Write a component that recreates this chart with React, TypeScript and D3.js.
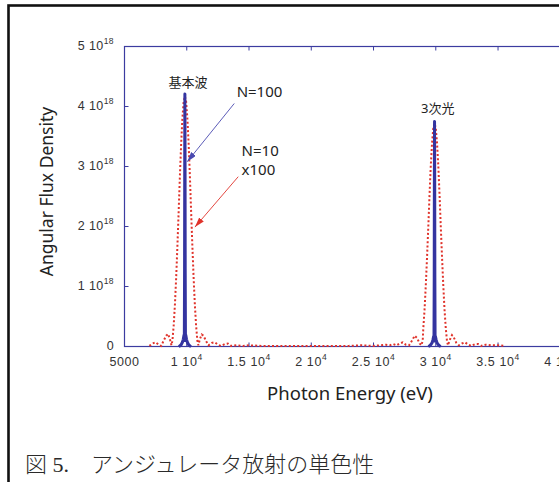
import React, { useEffect, useRef } from "react";
import * as d3 from "d3";

const WIDTH = 559;
const HEIGHT = 482;

// axis ticks (x in eV, y in units of 1e18)
const xTicks = [5000, 10000, 15000, 20000, 25000, 30000, 35000, 40000];
const xTickBase = ["5000", "1 10", "1.5 10", "2 10", "2.5 10", "3 10", "3.5 10", "4 10"];
const xTickExp = ["", "4", "4", "4", "4", "4", "4", "4"];
const yTicks = [0, 1, 2, 3, 4, 5];
const yTickBase = ["0", "1 10", "2 10", "3 10", "4 10", "5 10"];
const yTickExp = ["", "18", "18", "18", "18", "18"];

// N=100, fundamental and 3rd harmonic  [eV, flux/1e18]
const n100Fund: [number, number][] = [
  [9350, 0], [9450, 0.01], [9550, 0.03], [9650, 0.07], [9720, 0.12], [9780, 0.19],
  [9805, 0.1], [9825, 1.3], [9838, 3.2], [9850, 4.21], [9862, 3.2], [9875, 1.3],
  [9895, 0.1], [9920, 0.19], [9980, 0.12], [10050, 0.07], [10150, 0.03], [10250, 0.01], [10350, 0],
];
const n100Third: [number, number][] = [
  [29400, 0], [29500, 0.01], [29600, 0.03], [29700, 0.06], [29770, 0.11], [29830, 0.17],
  [29855, 0.09], [29875, 1.15], [29888, 2.85], [29900, 3.75], [29912, 2.85], [29925, 1.15],
  [29945, 0.09], [29970, 0.17], [30030, 0.11], [30100, 0.06], [30200, 0.03], [30300, 0.01], [30400, 0],
];

// N=10 (x100)
const n10x100: [number, number][] = [
  [7000, 0.01], [7250, 0.05], [7500, 0.07], [7750, 0.03], [7950, 0.01], [8150, 0.1],
  [8350, 0.18], [8500, 0.21], [8650, 0.12], [8770, 0.02], [8850, 0.1], [8950, 0.35],
  [9050, 0.7], [9150, 1.15], [9250, 1.68], [9350, 2.25], [9450, 2.85], [9550, 3.38],
  [9650, 3.8], [9750, 4.08], [9850, 4.17], [9950, 4.08], [10050, 3.8], [10150, 3.38],
  [10250, 2.85], [10350, 2.25], [10450, 1.68], [10550, 1.15], [10650, 0.7], [10750, 0.35],
  [10850, 0.1], [10930, 0.02], [11050, 0.12], [11200, 0.2], [11350, 0.18], [11550, 0.09],
  [11750, 0.02], [12000, 0.06], [12250, 0.07], [12500, 0.03], [12750, 0.01], [13050, 0.04],
  [13300, 0.05], [13550, 0.01], [14000, 0.02], [14500, 0.01], [15000, 0.02], [16000, 0.01],
  [17000, 0.01], [18000, 0.01], [19000, 0.01], [20000, 0.01], [21000, 0.01], [22000, 0.01],
  [23000, 0.01], [24000, 0.02], [25000, 0.01], [25500, 0.02], [26000, 0.03], [26300, 0.02],
  [26600, 0.04], [26850, 0.02], [27100, 0.05], [27350, 0.07], [27600, 0.03], [27850, 0.02],
  [28100, 0.1], [28300, 0.18], [28500, 0.14], [28700, 0.05], [28850, 0.02], [28950, 0.1],
  [29000, 0.31], [29100, 0.62], [29200, 1.03], [29300, 1.5], [29400, 2.0], [29500, 2.54],
  [29600, 3.02], [29700, 3.39], [29800, 3.64], [29900, 3.72], [30000, 3.64], [30100, 3.39],
  [30200, 3.02], [30300, 2.54], [30400, 2.0], [30500, 1.5], [30600, 1.03], [30700, 0.62],
  [30800, 0.31], [30900, 0.09], [30980, 0.02], [31100, 0.1], [31300, 0.19], [31450, 0.15],
  [31650, 0.06], [31850, 0.02], [32100, 0.05], [32350, 0.07], [32600, 0.03], [32850, 0.01],
  [33150, 0.04], [33400, 0.04], [33650, 0.01], [34000, 0.03], [34500, 0.02], [35000, 0.02],
  [35500, 0.01],
];

// annotation texts and arrows, in data coordinates
const labels = [
  { text: "基本波", e: 10096, v: 4.33, anchor: "middle", size: 13 },
  { text: "N=100", e: 14005, v: 4.16, anchor: "start", size: 15 },
  { text: "N=10", e: 14406, v: 3.175, anchor: "start", size: 15 },
  { text: "x100", e: 14406, v: 2.86, anchor: "start", size: 15 },
  { text: "3次光", e: 30161, v: 3.89, anchor: "middle", size: 13 },
];
const arrows = [
  { from: [13813, 4.05], to: [10040, 3.08], color: "#4a4ab0" },
  { from: [14133, 2.83], to: [10658, 1.99], color: "#e0332b" },
];

const AXIS = "#3c3ca0";
const BLUE = "#3434a0";
const RED = "#e0332b";

const App = () => {
  const ref = useRef<SVGSVGElement>(null);

  useEffect(() => {
    const svg = d3.select(ref.current);
    svg.selectAll("*").remove();

    const margin = { top: 46.5, left: 124.5, bottom: 346.5, right: 560.3 };
    const x = d3.scaleLinear().domain([5000, 40000]).range([margin.left, margin.right]);
    const y = d3.scaleLinear().domain([0, 5]).range([margin.bottom, margin.top]);

    // outer frame
    svg.append("rect")
      .attr("x", 8.5).attr("y", 5.5).attr("width", 600).attr("height", 600)
      .attr("fill", "none").attr("stroke", "#111").attr("stroke-width", 2.6);

    const defs = svg.append("defs");
    arrows.forEach((a, i) => {
      defs.append("marker")
        .attr("id", `ah${i}`)
        .attr("markerUnits", "userSpaceOnUse")
        .attr("markerWidth", 10).attr("markerHeight", 8)
        .attr("refX", 10).attr("refY", 3)
        .attr("orient", "auto")
        .append("path").attr("d", "M0,0 L10,3 L0,6 Z").attr("fill", a.color);
    });

    // plot box
    svg.append("rect")
      .attr("x", margin.left).attr("y", margin.top)
      .attr("width", margin.right - margin.left).attr("height", margin.bottom - margin.top)
      .attr("fill", "none").attr("stroke", AXIS).attr("stroke-width", 1.2);

    const g = svg.append("g");
    xTicks.forEach((t) => {
      g.append("line").attr("x1", x(t)).attr("x2", x(t))
        .attr("y1", margin.bottom).attr("y2", margin.bottom - 4)
        .attr("stroke", AXIS).attr("stroke-width", 1);
      g.append("line").attr("x1", x(t)).attr("x2", x(t))
        .attr("y1", margin.top).attr("y2", margin.top + 4)
        .attr("stroke", AXIS).attr("stroke-width", 1);
    });
    yTicks.forEach((t) => {
      g.append("line").attr("x1", margin.left).attr("x2", margin.left + 4)
        .attr("y1", y(t)).attr("y2", y(t))
        .attr("stroke", AXIS).attr("stroke-width", 1);
    });

    // tick labels
    const tickFont = "'Liberation Sans', Arial, sans-serif";
    xTicks.forEach((t, i) => {
      const tx = g.append("text")
        .attr("x", x(t)).attr("y", 366)
        .attr("text-anchor", "middle")
        .attr("font-family", tickFont).attr("font-size", 12.5)
        .attr("letter-spacing", 0.6).attr("fill", "#333");
      tx.append("tspan").text(xTickBase[i]);
      if (xTickExp[i]) tx.append("tspan").attr("dy", -6).attr("font-size", 8.5).text(xTickExp[i]);
    });
    yTicks.forEach((t, i) => {
      const tx = g.append("text")
        .attr("x", 114).attr("y", y(t) + 3.5)
        .attr("text-anchor", "end")
        .attr("font-family", tickFont).attr("font-size", 12.5)
        .attr("letter-spacing", 0.4).attr("fill", "#333");
      tx.append("tspan").text(yTickBase[i]);
      if (yTickExp[i]) tx.append("tspan").attr("dy", -6).attr("font-size", 8.5).text(yTickExp[i]);
    });

    // axis titles
    const titleFont = "'Noto Sans', 'Open Sans', sans-serif";
    const cjkFont = "'Noto Sans', 'Noto Sans CJK JP', sans-serif";
    svg.append("text")
      .attr("x", 350).attr("y", 400)
      .attr("text-anchor", "middle")
      .attr("font-family", titleFont).attr("font-size", 18.5).attr("fill", "#222")
      .text("Photon Energy (eV)");
    svg.append("text")
      .attr("transform", "translate(53,191.5) rotate(-90)")
      .attr("text-anchor", "middle")
      .attr("font-family", titleFont).attr("font-size", 17.5).attr("fill", "#222")
      .text("Angular Flux Density");

    // curves
    const line = d3.line<[number, number]>().x((d) => x(d[0])).y((d) => y(d[1]));
    svg.append("path").datum(n10x100)
      .attr("d", line).attr("fill", "none")
      .attr("stroke", RED).attr("stroke-width", 2)
      .attr("stroke-dasharray", "2 2.2");
    [n100Fund, n100Third].forEach((s) => {
      svg.append("path").datum(s)
        .attr("d", line).attr("fill", "none")
        .attr("stroke", BLUE).attr("stroke-width", 3)
        .attr("stroke-linejoin", "round");
    });

    // annotations
    arrows.forEach((a, i) => {
      svg.append("line")
        .attr("x1", x(a.from[0])).attr("y1", y(a.from[1]))
        .attr("x2", x(a.to[0])).attr("y2", y(a.to[1]))
        .attr("stroke", a.color).attr("stroke-width", 0.9)
        .attr("marker-end", `url(#ah${i})`);
    });
    labels.forEach((l) => {
      svg.append("text")
        .attr("x", x(l.e)).attr("y", y(l.v))
        .attr("text-anchor", l.anchor)
        .attr("font-family", cjkFont).attr("font-size", l.size).attr("fill", "#222")
        .text(l.text);
    });

    // caption
    svg.append("text")
      .attr("x", 25).attr("y", 472)
      .attr("font-family", "'Liberation Serif', 'Noto Sans CJK JP', serif")
      .attr("font-size", 22).attr("font-weight", 300).attr("fill", "#2a2a2a")
      .text("図 5.　アンジュレータ放射の単色性");
  }, []);

  return (
    <svg
      ref={ref}
      width={WIDTH}
      height={HEIGHT}
      style={{ position: "absolute", left: 0, top: 0, background: "#fff" }}
    />
  );
};

export default App;
